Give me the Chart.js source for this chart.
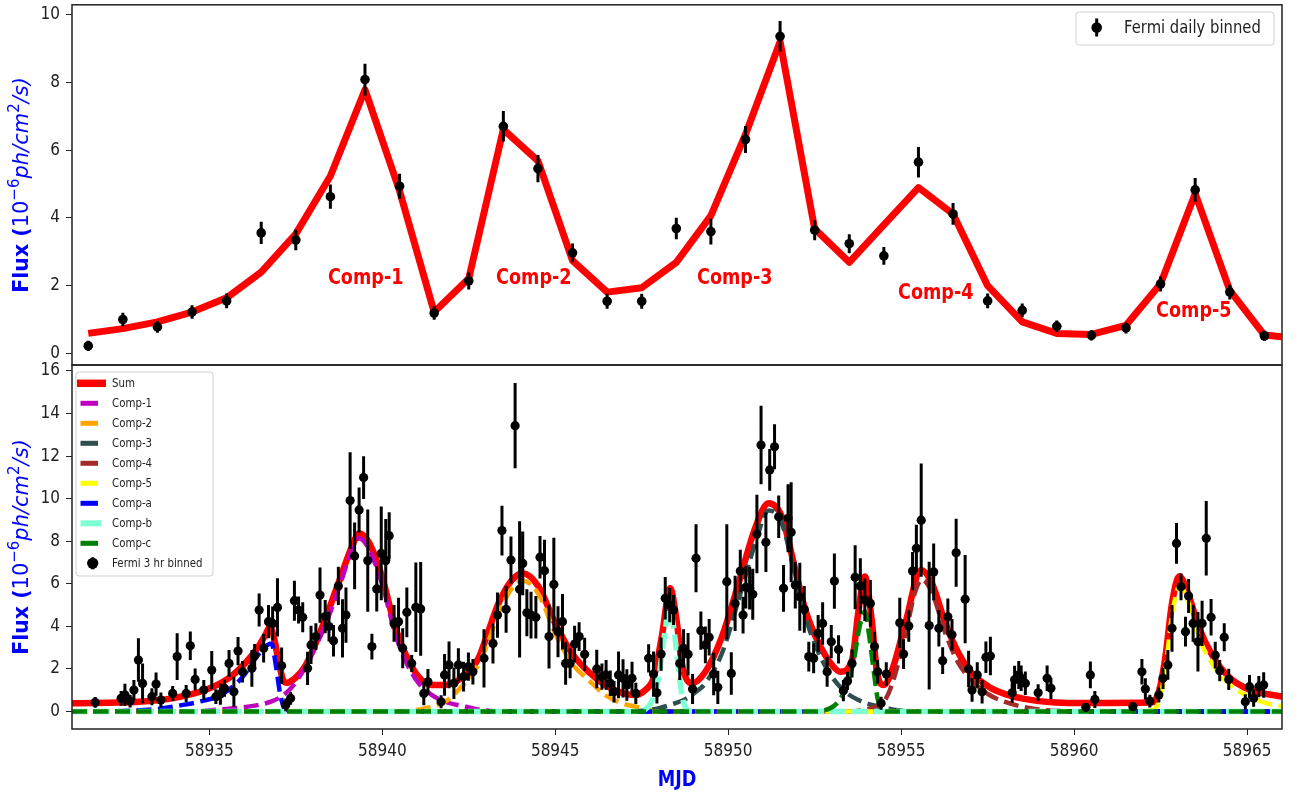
<!DOCTYPE html>
<html>
<head>
<meta charset="utf-8">
<title>Fermi light curve</title>
<script src="https://cdn.jsdelivr.net/npm/chart.js@4.4.1/dist/chart.umd.min.js"></script>
<style>
  html, body { margin: 0; padding: 0; background: #fff; }
  #wrap { position: relative; width: 1299px; height: 795px; }
  canvas { position: absolute; left: 0; }
  #daily { top: 0; }
  #hourly { top: 360px; }
</style>
</head>
<body>
<div id="wrap">
  <canvas id="daily" width="1299" height="370"></canvas>
  <canvas id="hourly" width="1299" height="435"></canvas>
</div>
<script>
// ===== axes =====
const X_MIN = 58931.03, X_MAX = 58966.01;
const xTicks = [58935, 58940, 58945, 58950, 58955, 58960, 58965];
const dailyTicks = [0, 2, 4, 6, 8, 10];
const hourlyTicks = [0, 2, 4, 6, 8, 10, 12, 14, 16];

// ===== daily binned light curve =====
const dayMjd = [58931.5, 58932.5, 58933.5, 58934.5, 58935.5, 58936.5, 58937.5, 58938.5, 58939.5, 58940.5,
  58941.5, 58942.5, 58943.5, 58944.5, 58945.5, 58946.5, 58947.5, 58948.5, 58949.5, 58950.5,
  58951.5, 58952.5, 58953.5, 58954.5, 58955.5, 58956.5, 58957.5, 58958.5, 58959.5, 58960.5,
  58961.5, 58962.5, 58963.5, 58964.5, 58965.5];
const dayFlux = [0.22, 1.00, 0.78, 1.22, 1.55, 3.56, 3.35, 4.63, 8.09, 4.94,
  1.19, 2.14, 6.71, 5.46, 2.97, 1.54, 1.54, 3.69, 3.60, 6.32,
  9.37, 3.64, 3.24, 2.88, 5.65, 4.12, 1.55, 1.27, 0.80, 0.53,
  0.75, 2.05, 4.83, 1.81, 0.52];
const dayErr = [0.15, 0.20, 0.17, 0.20, 0.22, 0.33, 0.30, 0.36, 0.47, 0.37,
  0.20, 0.25, 0.45, 0.40, 0.28, 0.22, 0.22, 0.32, 0.38, 0.40,
  0.45, 0.30, 0.28, 0.26, 0.45, 0.32, 0.22, 0.20, 0.17, 0.15,
  0.16, 0.22, 0.35, 0.22, 0.15];
// sum model evaluated on the daily grid (last value at the right edge)
const dayModelMjd = dayMjd.concat([58966.0]);
const dayModel = [0.59, 0.73, 0.93, 1.22, 1.64, 2.40, 3.53, 5.24, 7.79, 4.80,
  1.22, 2.21, 6.62, 5.69, 2.74, 1.81, 1.94, 2.69, 4.07, 6.47,
  9.21, 3.68, 2.69, 3.80, 4.90, 4.12, 2.00, 0.93, 0.59, 0.56,
  0.83, 2.06, 4.72, 1.86, 0.54, 0.49];

const compNames = ['Comp-1', 'Comp-2', 'Comp-3', 'Comp-4', 'Comp-5'];
const compNameMjd = [58939.52, 58944.38, 58950.19, 58956.0, 58963.46];
const compNameFlux = [2.21, 2.21, 2.21, 1.77, 1.24];

// ===== 3 hr binned light curve =====
const hrMjd = [
  58931.70, 58932.45, 58932.56, 58932.71, 58932.82, 58932.95, 58933.07, 58933.34, 58933.46, 58933.60,
  58933.94, 58934.07, 58934.33, 58934.45, 58934.59, 58934.84, 58935.07, 58935.19, 58935.32, 58935.44,
  58935.57, 58935.71, 58935.83, 58935.96, 58936.23, 58936.31, 58936.44, 58936.57, 58936.71, 58936.83,
  58936.97, 58937.09, 58937.21, 58937.35, 58937.46, 58937.58, 58937.70, 58937.84, 58937.94, 58938.08,
  58938.20, 58938.35, 58938.46, 58938.59, 58938.73, 58938.85, 58938.95, 58939.07, 58939.20, 58939.33,
  58939.46, 58939.58, 58939.70, 58939.84, 58939.97, 58940.10, 58940.20, 58940.34, 58940.47, 58940.59,
  58940.71, 58940.85, 58940.97, 58941.11, 58941.20, 58941.32, 58941.70, 58941.80, 58941.93, 58942.07,
  58942.20, 58942.35, 58942.49, 58942.62, 58942.94, 58943.20, 58943.33, 58943.46, 58943.58, 58943.72,
  58943.84, 58943.97, 58944.06, 58944.18, 58944.30, 58944.44, 58944.56, 58944.69, 58944.82, 58944.96,
  58945.08, 58945.21, 58945.30, 58945.43, 58945.56, 58945.69, 58945.85, 58946.20, 58946.35, 58946.47,
  58946.59, 58946.70, 58946.83, 58946.96, 58947.07, 58947.22, 58947.33, 58947.70, 58947.84, 58947.94,
  58948.06, 58948.18, 58948.31, 58948.42, 58948.60, 58948.71, 58948.84, 58948.97, 58949.07, 58949.21,
  58949.34, 58949.45, 58949.58, 58949.70, 58949.96, 58950.09, 58950.20, 58950.35, 58950.43, 58950.51,
  58950.62, 58950.71, 58950.83, 58950.95, 58951.09, 58951.20, 58951.34, 58951.46, 58951.60, 58951.73,
  58951.82, 58951.94, 58952.07, 58952.20, 58952.33, 58952.47, 58952.60, 58952.73, 58952.86, 58952.98,
  58953.07, 58953.19, 58953.33, 58953.45, 58953.58, 58953.67, 58953.82, 58953.95, 58954.11, 58954.23,
  58954.32, 58954.42, 58954.57, 58954.96, 58955.07, 58955.22, 58955.33, 58955.44, 58955.58, 58955.81,
  58955.94, 58956.09, 58956.20, 58956.35, 58956.47, 58956.59, 58956.85, 58956.95, 58957.05, 58957.20,
  58957.34, 58957.45, 58957.58, 58958.21, 58958.28, 58958.40, 58958.47, 58958.59, 58958.96, 58959.22,
  58959.33, 58960.34, 58960.47, 58960.60, 58961.70, 58961.96, 58962.06, 58962.19, 58962.45, 58962.57,
  58962.71, 58962.83, 58962.96, 58963.09, 58963.22, 58963.31, 58963.44, 58963.58, 58963.70, 58963.82,
  58963.96, 58964.08, 58964.21, 58964.34, 58964.47, 58964.95, 58965.07, 58965.19, 58965.34, 58965.48];
const hrFlux = [
  0.43, 0.62, 0.78, 0.49, 1.01, 2.42, 1.32, 0.70, 1.29, 0.54,
  0.85, 2.58, 0.85, 3.09, 1.51, 1.01, 1.95, 0.70, 0.82, 1.09,
  2.26, 0.93, 2.84, 1.87, 2.03, 2.62, 4.77, 2.97, 4.22, 4.14,
  4.89, 2.15, 0.31, 0.62, 5.21, 4.77, 4.43, 2.03, 3.13, 3.52,
  5.47, 4.46, 3.99, 3.33, 5.90, 3.91, 4.53, 9.91, 7.31, 9.47,
  10.99, 7.09, 3.05, 5.76, 7.43, 7.09, 8.26, 4.14, 4.22, 2.97,
  4.66, 2.26, 4.90, 4.82, 0.85, 1.40, 0.46, 1.72, 2.19, 1.33,
  2.19, 1.64, 2.11, 1.87, 2.50, 3.20, 4.53, 8.50, 4.80, 7.12,
  13.43, 5.74, 6.96, 4.64, 4.53, 4.43, 7.25, 6.62, 3.52, 5.97,
  3.75, 4.22, 2.26, 2.26, 3.17, 3.52, 2.69, 2.00, 1.64, 1.72,
  1.33, 0.93, 1.72, 1.56, 1.25, 1.56, 0.85, 2.50, 1.76, 0.88,
  2.70, 5.32, 5.00, 4.77, 2.26, 2.97, 2.69, 1.06, 7.20, 3.80,
  3.13, 3.49, 1.76, 1.14, 6.10, 1.79, 5.08, 6.60, 4.53, 5.84,
  5.79, 5.51, 8.34, 12.52, 7.95, 11.35, 12.44, 9.15, 5.79, 9.08,
  8.42, 5.94, 5.39, 4.80, 2.58, 2.50, 3.67, 4.14, 1.87, 3.28,
  6.13, 2.92, 0.98, 1.44, 2.26, 6.31, 5.90, 5.25, 5.08, 3.05,
  1.87, 0.39, 1.76, 4.17, 2.70, 4.02, 6.60, 7.67, 8.99, 4.04,
  6.56, 3.91, 2.39, 4.45, 3.61, 7.46, 5.28, 2.00, 1.01, 1.72,
  0.93, 2.55, 2.61, 0.88, 1.49, 1.72, 1.56, 1.33, 0.88, 1.56,
  1.09, 0.20, 1.72, 0.57, 0.23, 1.87, 1.06, 0.49, 0.78, 1.56,
  2.19, 3.91, 7.90, 5.86, 3.75, 5.43, 4.14, 3.28, 4.14, 8.14,
  4.43, 2.65, 1.92, 3.49, 1.51, 0.46, 1.17, 0.62, 1.17, 1.25];
const hrErr = [
  0.25, 0.35, 0.52, 0.30, 0.47, 1.02, 0.94, 0.40, 0.55, 0.35,
  0.35, 1.10, 0.40, 0.67, 0.51, 0.47, 0.90, 0.35, 0.50, 0.40,
  0.63, 0.70, 0.66, 0.50, 0.86, 0.55, 0.78, 0.67, 0.78, 0.80,
  1.37, 0.86, 0.30, 0.30, 0.94, 0.63, 0.70, 0.78, 0.90, 0.63,
  1.30, 0.78, 0.70, 0.74, 0.90, 1.37, 1.30, 2.27, 1.57, 1.06,
  1.00, 2.40, 0.60, 1.06, 2.20, 1.95, 1.10, 0.86, 1.13, 0.94,
  1.17, 0.40, 2.10, 2.20, 0.55, 0.60, 0.30, 0.98, 1.10, 0.74,
  0.78, 0.70, 0.66, 0.60, 1.37, 0.94, 1.06, 1.17, 1.10, 1.10,
  2.00, 3.20, 1.50, 1.10, 1.10, 1.00, 1.00, 1.45, 1.50, 2.20,
  1.20, 1.30, 1.00, 0.70, 0.86, 0.67, 0.78, 0.90, 0.62, 0.70,
  0.60, 0.50, 1.10, 0.90, 0.74, 0.78, 0.50, 0.66, 1.06, 0.50,
  0.78, 1.00, 0.80, 0.70, 0.78, 0.90, 1.00, 0.70, 1.60, 0.90,
  0.86, 0.86, 1.00, 0.78, 2.70, 1.00, 1.30, 1.00, 0.86, 1.00,
  1.00, 1.20, 1.84, 1.84, 1.40, 0.98, 1.06, 1.00, 1.10, 1.60,
  2.35, 1.10, 1.60, 1.10, 0.70, 0.70, 0.86, 1.00, 0.70, 0.78,
  1.30, 0.66, 0.50, 0.43, 0.66, 1.50, 1.30, 1.00, 1.10, 0.70,
  0.55, 0.30, 0.55, 1.17, 0.70, 0.74, 0.90, 1.10, 2.66, 3.00,
  1.33, 0.86, 0.63, 0.86, 0.74, 1.60, 2.07, 0.86, 0.55, 0.60,
  0.55, 0.74, 0.90, 0.47, 0.66, 0.66, 0.60, 0.55, 0.40, 0.60,
  0.50, 0.20, 0.63, 0.40, 0.20, 0.60, 0.50, 0.30, 0.35, 0.50,
  0.70, 1.10, 0.96, 0.63, 0.70, 0.80, 0.86, 1.40, 1.06, 1.75,
  0.86, 0.63, 0.50, 0.66, 0.50, 0.35, 0.55, 0.40, 0.50, 0.60];

// fitted model curves [MJD, flux]
const sumCurve = [[58931.03, 0.39], [58932.95, 0.46], [58933.92, 0.62], [58934.88, 1.01], [58935.55, 1.56],
  [58936.03, 2.26], [58936.42, 3.05], [58936.62, 3.6], [58936.75, 3.98], [58936.85, 3.6], [58936.94, 2.89],
  [58937.05, 2.0], [58937.13, 1.5], [58937.24, 1.35], [58937.5, 1.6], [58937.77, 2.13], [58938.25, 3.91],
  [58938.73, 6.02], [58939.12, 7.74], [58939.33, 8.37], [58939.6, 7.98], [58939.99, 6.34], [58940.37, 3.99],
  [58940.66, 2.74], [58941.05, 1.63], [58941.43, 1.25], [58941.82, 1.25], [58942.4, 1.72], [58942.78, 2.5],
  [58943.0, 3.45], [58943.36, 5.08], [58943.75, 6.18], [58944.06, 6.5], [58944.52, 5.86], [58945.0, 4.14],
  [58945.48, 2.74], [58945.96, 1.87], [58946.44, 1.25], [58946.93, 0.88], [58947.31, 0.78], [58947.6, 1.01],
  [58947.84, 1.56], [58948.08, 3.52], [58948.32, 5.79], [58948.52, 4.14], [58948.66, 2.26], [58948.95, 1.33],
  [58949.34, 1.87], [58949.82, 3.52], [58950.3, 6.02], [58950.78, 8.62], [58951.17, 9.78], [58951.55, 9.15],
  [58951.94, 6.65], [58952.23, 4.77], [58952.62, 3.2], [58953.0, 2.19], [58953.24, 1.87], [58953.58, 2.42],
  [58953.77, 4.77], [58953.95, 6.34], [58954.16, 4.14], [58954.3, 1.87], [58954.5, 1.25], [58954.74, 1.95],
  [58955.12, 4.14], [58955.58, 6.65], [58955.89, 6.02], [58956.28, 4.14], [58956.66, 2.74], [58957.05, 1.79],
  [58957.53, 1.17], [58958.01, 0.82], [58958.49, 0.62], [58958.98, 0.49], [58959.46, 0.43], [58960.23, 0.40],
  [58962.25, 0.42], [58962.45, 0.93], [58962.64, 2.58], [58962.83, 5.08], [58963.04, 6.36], [58963.31, 5.47],
  [58963.6, 3.99], [58963.99, 2.65], [58964.47, 1.63], [58965.05, 1.04], [58966.01, 0.70]];
const comp1Curve = [[58931.03, 0], [58934.5, 0], [58935.2, 0.08], [58935.9, 0.18], [58936.4, 0.3],
  [58936.8, 0.48], [58937.1, 0.72], [58937.4, 1.17], [58937.77, 2.09], [58938.25, 3.67], [58938.73, 5.71],
  [58939.12, 7.59], [58939.33, 8.14], [58939.6, 7.67], [58939.99, 6.02], [58940.37, 3.67], [58940.66, 2.42],
  [58941.05, 1.33], [58941.43, 0.78], [58941.82, 0.46], [58942.4, 0.23], [58942.83, 0.08], [58943.5, 0],
  [58966.01, 0]];
const comp2Curve = [[58931.03, 0], [58940.5, 0], [58941.0, 0.08], [58941.5, 0.25], [58941.9, 0.55],
  [58942.24, 1.09], [58942.63, 1.79], [58943.0, 3.0], [58943.36, 4.6], [58943.75, 5.8], [58944.06, 6.15],
  [58944.52, 5.5], [58945.0, 3.67], [58945.48, 2.26], [58945.96, 1.49], [58946.44, 0.78], [58946.93, 0.39],
  [58947.4, 0.2], [58947.9, 0.05], [58948.5, 0], [58966.01, 0]];
const comp3Curve = [[58931.03, 0], [58947.0, 0], [58947.6, 0.05], [58948.0, 0.16], [58948.4, 0.35],
  [58948.8, 0.62], [58949.09, 0.95], [58949.34, 1.33], [58949.82, 2.74], [58950.3, 5.25], [58950.78, 7.9],
  [58951.17, 9.45], [58951.55, 8.84], [58951.94, 6.34], [58952.23, 4.45], [58952.62, 2.74], [58953.0, 1.63],
  [58953.38, 0.93], [58953.77, 0.54], [58954.16, 0.31], [58954.74, 0.1], [58955.5, 0], [58966.01, 0]];
const comp4Curve = [[58931.03, 0], [58953.5, 0], [58954.0, 0.1], [58954.3, 0.25], [58954.5, 0.45],
  [58954.74, 1.3], [58955.12, 3.6], [58955.4, 5.6], [58955.6, 6.2], [58955.89, 5.6], [58956.28, 3.67],
  [58956.66, 2.26], [58957.05, 1.45], [58957.53, 0.8], [58958.01, 0.45], [58958.49, 0.23], [58958.98, 0.1],
  [58959.7, 0.02], [58960.3, 0], [58966.01, 0]];
const comp5Curve = [[58931.03, 0], [58961.8, 0], [58962.2, 0.05], [58962.45, 0.45], [58962.64, 2.0],
  [58962.83, 4.5], [58963.05, 5.9], [58963.31, 5.1], [58963.6, 3.5], [58963.99, 2.26], [58964.47, 1.3],
  [58965.05, 0.7], [58965.5, 0.42], [58966.01, 0.25]];
const compACurve = [[58931.03, 0], [58932.5, 0.03], [58933.5, 0.12], [58934.2, 0.3], [58934.7, 0.46],
  [58935.35, 0.8], [58935.93, 1.56], [58936.37, 2.58], [58936.65, 3.1], [58936.8, 3.2], [58936.92, 2.2],
  [58937.04, 0.9], [58937.15, 0.2], [58937.3, 0], [58966.01, 0]];
const compBCurve = [[58931.03, 0], [58947.4, 0], [58947.7, 0.25], [58947.85, 0.7], [58948.0, 1.7],
  [58948.15, 3.5], [58948.3, 4.8], [58948.42, 4.0], [58948.55, 2.2], [58948.66, 0.8], [58948.78, 0.15],
  [58949.0, 0], [58966.01, 0]];
const compCCurve = [[58931.03, 0], [58952.5, 0], [58952.94, 0.15], [58953.15, 0.4], [58953.4, 1.1],
  [58953.62, 2.3], [58953.8, 4.0], [58953.95, 4.7], [58954.08, 3.5], [58954.2, 2.0], [58954.32, 0.6],
  [58954.45, 0.1], [58954.6, 0], [58966.01, 0]];

// ===== styling =====
const FONT = "'DejaVu Sans', sans-serif";
const COND = "'DejaVu Sans Condensed', 'DejaVu Sans', sans-serif";
const INK = '#222';
const DASH = [15, 6.5];

const curves = [
  { label: 'Sum', pts: sumCurve, color: '#ff0000', width: 6.5, dash: [] },
  { label: 'Comp-1', pts: comp1Curve, color: '#bf00bf', width: 4.5, dash: DASH },
  { label: 'Comp-2', pts: comp2Curve, color: '#ffa500', width: 4.5, dash: DASH },
  { label: 'Comp-3', pts: comp3Curve, color: '#2f4f4f', width: 4.5, dash: DASH },
  { label: 'Comp-4', pts: comp4Curve, color: '#a52a2a', width: 4.5, dash: DASH },
  { label: 'Comp-5', pts: comp5Curve, color: '#ffff00', width: 4.5, dash: DASH },
  { label: 'Comp-a', pts: compACurve, color: '#0000ff', width: 4.5, dash: DASH },
  { label: 'Comp-b', pts: compBCurve, color: '#7fffd4', width: 5.5, dash: [16, 6] },
  { label: 'Comp-c', pts: compCCurve, color: '#008000', width: 4.5, dash: DASH }
];

// text squeezed horizontally, the way the figure's labels look
function narrowText(ctx, text, x, y, font, color, align) {
  ctx.save();
  ctx.font = font;
  ctx.fillStyle = color;
  ctx.textBaseline = 'middle';
  ctx.textAlign = align || 'left';
  ctx.translate(x, y);
  ctx.scale(0.8, 1);
  ctx.fillText(text, 0, 0);
  ctx.restore();
}

function roundBox(ctx, x, y, w, h) {
  ctx.save();
  ctx.beginPath();
  ctx.roundRect(x, y, w, h, 3);
  ctx.fillStyle = 'rgba(255,255,255,0.85)';
  ctx.fill();
  ctx.strokeStyle = '#d0d0d0';
  ctx.lineWidth = 1;
  ctx.stroke();
  ctx.restore();
}

function errorDot(ctx, x, y, r, half) {
  ctx.save();
  ctx.strokeStyle = '#000';
  ctx.lineWidth = 3;
  ctx.beginPath();
  ctx.moveTo(x, y - half);
  ctx.lineTo(x, y + half);
  ctx.stroke();
  ctx.fillStyle = '#000';
  ctx.beginPath();
  ctx.arc(x, y, r, 0, Math.PI * 2);
  ctx.fill();
  ctx.restore();
}

// vertical error bars, drawn just under their markers
const errorBars = {
  id: 'errorBars',
  beforeDatasetDraw(chart, args) {
    const ds = chart.data.datasets[args.index];
    if (!ds.errors) return;
    const { ctx, chartArea: a, scales: { x, y } } = chart;
    ctx.save();
    ctx.beginPath();
    ctx.rect(a.left, a.top, a.right - a.left, a.bottom - a.top);
    ctx.clip();
    ctx.strokeStyle = '#000';
    ctx.lineWidth = 3;
    ctx.beginPath();
    ds.data.forEach((p, i) => {
      const px = x.getPixelForValue(p.x);
      ctx.moveTo(px, y.getPixelForValue(p.y - ds.errors[i]));
      ctx.lineTo(px, y.getPixelForValue(p.y + ds.errors[i]));
    });
    ctx.stroke();
    ctx.restore();
  }
};

// box round the plot area
const frame = {
  id: 'frame',
  afterDraw(chart) {
    const { ctx, chartArea: a } = chart;
    ctx.save();
    ctx.strokeStyle = INK;
    ctx.lineWidth = 1.5;
    ctx.strokeRect(a.left, a.top, a.right - a.left, a.bottom - a.top);
    ctx.restore();
  }
};

// rotated y title with superscripts
const fluxTitle = {
  id: 'fluxTitle',
  afterDraw(chart) {
    const { ctx, chartArea: a } = chart;
    const parts = [
      ['Flux (', 'bold 20.5px ' + FONT, 0],
      ['10', '21px ' + FONT, 0],
      ['\u22126', '15px ' + FONT, -9],
      ['ph/cm', 'italic 21px ' + FONT, 0],
      ['2', '15px ' + FONT, -9],
      ['/s)', 'italic 21px ' + FONT, 0]
    ];
    ctx.save();
    let total = 0;
    parts.forEach(p => { ctx.font = p[1]; total += ctx.measureText(p[0]).width; });
    ctx.translate(28, (a.top + a.bottom) / 2);
    ctx.rotate(-Math.PI / 2);
    ctx.fillStyle = '#0000ff';
    ctx.textBaseline = 'alphabetic';
    let cx = -total / 2;
    parts.forEach(p => {
      ctx.font = p[1];
      ctx.fillText(p[0], cx, p[2]);
      cx += ctx.measureText(p[0]).width;
    });
    ctx.restore();
  }
};

function xAxis(show) {
  return {
    type: 'linear', min: X_MIN, max: X_MAX, display: show,
    afterBuildTicks: s => { s.ticks = xTicks.map(v => ({ value: v })); },
    afterFit: s => { s.height = show ? 66 : 0; s.paddingLeft = 0; s.paddingRight = 0; },
    grid: { drawOnChartArea: false, drawTicks: true, tickLength: 6, tickColor: INK },
    border: { display: false },
    ticks: { color: INK, font: { family: COND, size: 17 }, padding: 6, maxRotation: 0, autoSkip: false,
      callback: v => String(v) }
  };
}

function yAxis(min, max, ticks) {
  return {
    type: 'linear', min: min, max: max,
    afterBuildTicks: s => { s.ticks = ticks.map(v => ({ value: v })); },
    afterFit: s => { s.width = 72; s.paddingTop = 0; s.paddingBottom = 0; },
    grid: { drawOnChartArea: false, drawTicks: true, tickLength: 6, tickColor: INK },
    border: { display: false },
    ticks: { color: INK, font: { family: COND, size: 17 }, padding: 6, callback: v => String(v) }
  };
}

// ===== top panel: daily bins =====
const dailyExtras = {
  id: 'dailyExtras',
  afterDraw(chart) {
    const { ctx, scales: { x, y } } = chart;
    compNames.forEach((name, i) => {
      narrowText(ctx, name, x.getPixelForValue(compNameMjd[i]), y.getPixelForValue(compNameFlux[i]),
        'bold 22px ' + FONT, '#ff0000', 'center');
    });
    roundBox(ctx, 1076, 12, 198, 33);
    errorDot(ctx, 1096.7, 27.5, 5.3, 9);
    narrowText(ctx, chart.data.datasets[0].label, 1124, 28, '18.5px ' + FONT, INK);
  }
};

new Chart(document.getElementById('daily'), {
  type: 'line',
  data: {
    datasets: [
      {
        type: 'scatter', label: 'Fermi daily binned', order: 0,
        data: dayMjd.map((m, i) => ({ x: m, y: dayFlux[i] })),
        errors: dayErr,
        pointRadius: 4.8, pointBackgroundColor: '#000', pointBorderWidth: 0, showLine: false
      },
      {
        label: 'Sum', order: 1,
        data: dayModelMjd.map((m, i) => ({ x: m, y: dayModel[i] })),
        borderColor: '#ff0000', borderWidth: 7, pointRadius: 0, tension: 0,
        borderJoinStyle: 'round', fill: false, clip: 0
      }
    ]
  },
  options: {
    responsive: false,
    animation: false,
    layout: { padding: { top: 3, right: 17, bottom: 5, left: 0 } },
    plugins: { legend: { display: false }, tooltip: { enabled: false } },
    scales: { x: xAxis(false), y: yAxis(-0.344, 10.30, dailyTicks) }
  },
  plugins: [errorBars, frame, fluxTitle, dailyExtras]
});

// ===== bottom panel: 3 hr bins with the fitted components =====
const hourlyExtras = {
  id: 'hourlyExtras',
  afterDraw(chart) {
    const { ctx, chartArea: a } = chart;
    roundBox(ctx, 76, 12, 137, 204);
    curves.forEach((c, i) => {
      const ly = 23.3 + 20 * i;
      ctx.save();
      ctx.strokeStyle = c.color;
      ctx.beginPath();
      if (c.dash.length === 0) {
        ctx.lineWidth = 7.5;
        ctx.moveTo(77, ly); ctx.lineTo(106, ly);
      } else {
        ctx.lineWidth = c.width + 0.5;
        ctx.moveTo(80.5, ly); ctx.lineTo(c.label === 'Comp-b' ? 101 : 98, ly);
      }
      ctx.stroke();
      ctx.restore();
      narrowText(ctx, c.label, 112, ly, '12.8px ' + FONT, INK);
    });
    const py = 23.3 + 20 * curves.length;
    errorDot(ctx, 92.7, py, 5.6, 6);
    narrowText(ctx, 'Fermi 3 hr binned', 112, py, '12.8px ' + FONT, INK);
    narrowText(ctx, 'MJD', (a.left + a.right) / 2, 420, 'bold 22px ' + FONT, '#0000ff', 'center');
  }
};

const hourlySets = curves.map((c, i) => ({
  label: c.label,
  order: 20 - i,
  data: c.pts.map(p => ({ x: p[0], y: p[1] })),
  borderColor: c.color, borderWidth: c.width, borderDash: c.dash,
  pointRadius: 0, fill: false, cubicInterpolationMode: 'monotone', clip: 0
}));
hourlySets.push({
  type: 'scatter', label: 'Fermi 3 hr binned', order: 0,
  data: hrMjd.map((m, i) => ({ x: m, y: hrFlux[i] })),
  errors: hrErr,
  pointRadius: 4.6, pointBackgroundColor: '#000', pointBorderWidth: 0, showLine: false
});

new Chart(document.getElementById('hourly'), {
  type: 'line',
  data: { datasets: hourlySets },
  options: {
    responsive: false,
    animation: false,
    layout: { padding: { top: 5, right: 17, bottom: 0, left: 0 } },
    plugins: { legend: { display: false }, tooltip: { enabled: false } },
    scales: { x: xAxis(true), y: yAxis(-0.82, 16.28, hourlyTicks) }
  },
  plugins: [errorBars, frame, fluxTitle, hourlyExtras]
});
</script>
</body>
</html>
